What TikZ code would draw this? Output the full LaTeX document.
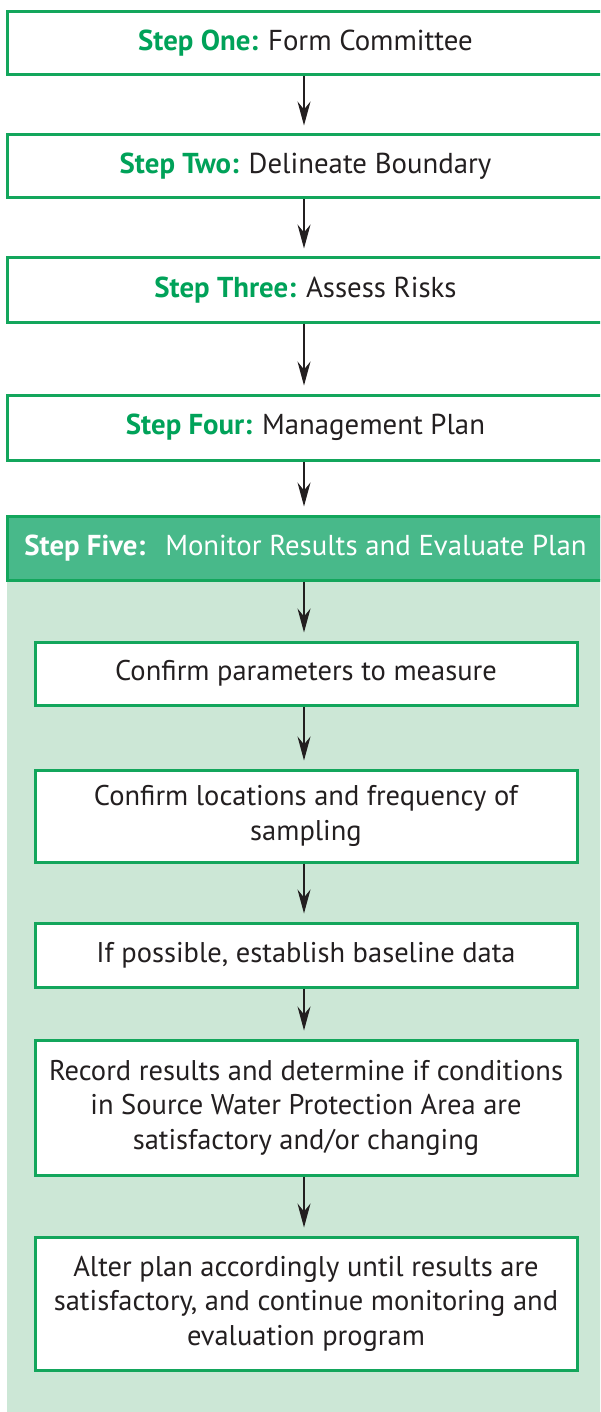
\documentclass[tikz,border=0pt]{standalone}
\usepackage{fontspec}
\setmainfont{PT Sans}
\usetikzlibrary{arrows.meta}
\definecolor{bordergreen}{HTML}{13A65C}
\definecolor{labelgreen}{HTML}{00A259}
\definecolor{headfill}{HTML}{48B98A}
\definecolor{lightbg}{HTML}{CCE7D6}
\definecolor{ink}{HTML}{231F20}
\tikzset{
  stepbox/.style={draw=bordergreen, line width=3pt, fill=white, rectangle,
    minimum width=597pt, inner sep=0pt, text=ink, font=\fontsize{28.8}{34}\selectfont},
  subbox/.style={draw=bordergreen, line width=3pt, fill=white, rectangle,
    minimum width=542pt, inner sep=0pt, text=ink, align=center,
    font=\fontsize{28.5}{34.5}\selectfont},
  arr/.style={draw=ink, line width=1.4pt, shorten >=8pt,
    -{Stealth[length=24pt,width=13pt,inset=8pt]}},
}
\newcommand{\gap}{\hspace{10pt}}
\begin{document}
\begin{tikzpicture}[x=1pt,y=-1pt]
\useasboundingbox (0,0) rectangle (600,1412);
\clip (0,0) rectangle (600,1412);
% step five background
\fill[lightbg] (7,516) rectangle (604,1420);
\node[stepbox, minimum height=63pt] (b1) at (305.5,43.5) {{\color{labelgreen}\bfseries Step One:}\gap Form Committee};
\node[stepbox, minimum height=63pt] (b2) at (305.5,166.5) {{\color{labelgreen}\bfseries Step Two:}\gap Delineate Boundary};
\node[stepbox, minimum height=64pt] (b3) at (305.5,290) {{\color{labelgreen}\bfseries Step Three:}\gap Assess Risks};
\node[stepbox, minimum height=65pt] (b4) at (305.5,427.5) {{\color{labelgreen}\bfseries Step Four:}\gap Management Plan};
\node[stepbox, fill=headfill, draw=bordergreen, minimum height=64pt, text=white] (h5) at (305.5,548) {{\bfseries Step Five:}\gap\gap Monitor Results and Evaluate Plan};
\node[subbox, minimum height=63pt] (c1) at (306,673.5) {Confirm parameters to measure};
\node[subbox, minimum height=92pt] (c2) at (306,816) {Confirm locations and frequency of\\sampling};
\node[subbox, minimum height=64pt] (c3) at (306,955) {If possible, establish baseline data};
\node[subbox, minimum height=135pt] (c4) at (306,1107.5) {Record results and determine if conditions\\in Source Water Protection Area are\\satisfactory and/or changing};
\node[subbox, minimum height=133pt] (c5) at (306,1303.5) {Alter plan accordingly until results are\\satisfactory, and continue monitoring and\\evaluation program};
\draw[arr] ([xshift=-1.5pt]b1.south) -- ([xshift=-1.5pt]b2.north);
\draw[arr] ([xshift=-1.5pt]b2.south) -- ([xshift=-1.5pt]b3.north);
\draw[arr] ([xshift=-1.5pt]b3.south) -- ([xshift=-1.5pt]b4.north);
\draw[arr] ([xshift=-1.5pt]b4.south) -- ([xshift=-1.5pt]h5.north);
\draw[arr] ([xshift=-1.5pt]h5.south) -- ([xshift=-2pt]c1.north);
\draw[arr] ([xshift=-2pt]c1.south) -- ([xshift=-2pt]c2.north);
\draw[arr] ([xshift=-2pt]c2.south) -- ([xshift=-2pt]c3.north);
\draw[arr] ([xshift=-2pt]c3.south) -- ([xshift=-2pt]c4.north);
\draw[arr] ([xshift=-2pt]c4.south) -- ([xshift=-2pt]c5.north);
\end{tikzpicture}
\end{document}
